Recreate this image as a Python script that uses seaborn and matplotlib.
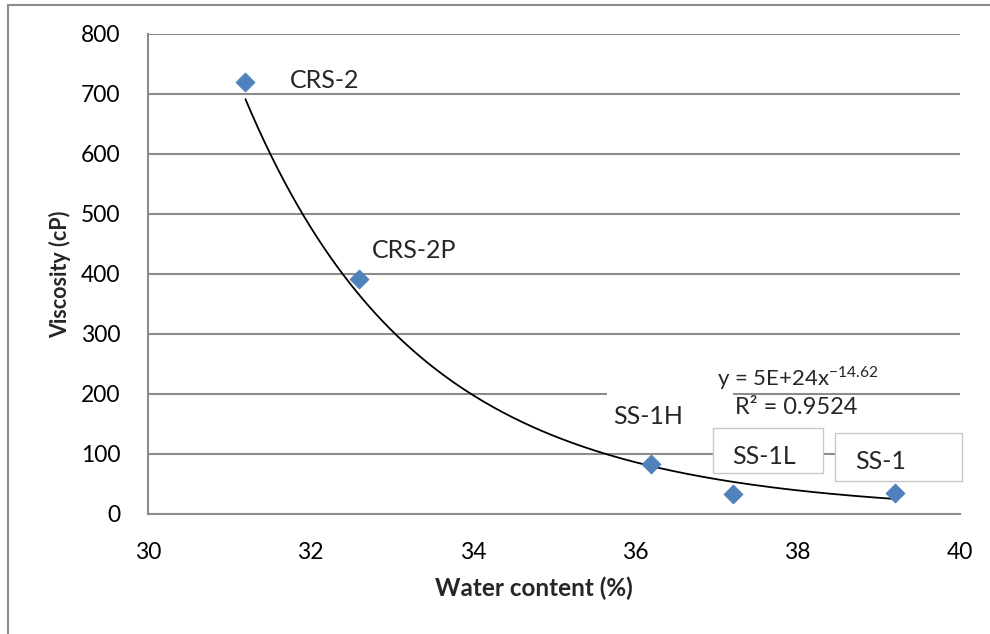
import numpy as np
import pandas as pd
import matplotlib
matplotlib.use("Agg")
import matplotlib.pyplot as plt
from matplotlib.patches import Rectangle
from matplotlib.lines import Line2D
import seaborn as sns

# ---- data ----
names = ["CRS-2", "CRS-2P", "SS-1H", "SS-1L", "SS-1"]
water = [31.2, 32.6, 36.2, 37.2, 39.2]
viscosity = [720, 392, 83, 33, 35]
x_ticks = [30, 32, 34, 36, 38, 40]
y_ticks = [0, 100, 200, 300, 400, 500, 600, 700, 800]
eq_text = r"y = 5E+24x$^{\mathregular{-14.62}}$"
r2_text = "R² = 0.9524"

sns.set_theme(style="white")
plt.rcParams["font.family"] = ["Lato", "DejaVu Sans"]

df = pd.DataFrame({"name": names, "water": water, "visc": viscosity})

fig = plt.figure(figsize=(9.9, 6.34), dpi=100)
ax = fig.add_axes([148/990, 1-514/634, (960-148)/990, (514-34)/634])

grid_c = "#8C8C8C"
ax.set_axisbelow(True)
ax.yaxis.grid(True, color=grid_c, lw=1.5)
ax.xaxis.grid(False)

# power trend line fitted from data
b, a = np.polyfit(np.log(df["water"]), np.log(df["visc"]), 1)
xs = np.linspace(min(water), max(water), 200)
ax.plot(xs, np.exp(a) * xs ** b, color="black", lw=1.3, zorder=2)

sns.scatterplot(data=df, x="water", y="visc", marker="D", s=95,
                color="#4F81BD", edgecolor="#4F81BD", linewidth=0.5,
                ax=ax, zorder=3, legend=False)

ax.set_xlim(30, 40)
ax.set_ylim(0, 800)
ax.set_xticks(x_ticks)
ax.set_yticks(y_ticks)
ax.tick_params(axis="both", length=0, labelsize=16.5, colors="black")
ax.tick_params(axis="y", pad=20)
ax.tick_params(axis="x", pad=20)
for s in ["top", "right"]:
    ax.spines[s].set_visible(False)
for s in ["left", "bottom"]:
    ax.spines[s].set_color(grid_c)
    ax.spines[s].set_linewidth(1.5)

ax.set_xlabel("Water content (%)", fontsize=17.5, fontweight="bold")
ax.set_ylabel("Viscosity (cP)", fontsize=15.5, fontweight="bold")
ax.xaxis.label.set_va("center")
ax.yaxis.label.set_va("center")
ax.xaxis.set_label_coords((534-148)/812, (514-588)/480)
ax.yaxis.set_label_coords((60-148)/812, (514-274)/480)

# white patch interrupting gridline behind equation
ax.add_patch(Rectangle((35.65, 185), 1.55, 30, facecolor="white",
                       edgecolor="none", zorder=1))

# label boxes
box_c = "#C8C8C8"
ax.add_patch(Rectangle((36.96, 68), 1.35, 75, facecolor="white",
                       edgecolor=box_c, lw=1.0, zorder=1.5, clip_on=False))
ax.add_patch(Rectangle((38.46, 55), 1.56, 80, facecolor="white",
                       edgecolor=box_c, lw=1.0, zorder=1.5, clip_on=False))

lab_pos = {"CRS-2": (31.75, 723), "CRS-2P": (32.76, 440), "SS-1H": (35.73, 163),
           "SS-1L": (37.2, 95), "SS-1": (38.71, 87)}
for n in names:
    px, py = lab_pos[n]
    ax.text(px, py, n, fontsize=18, va="center", ha="left", zorder=4)

ax.text(37.01, 227, eq_text, fontsize=16, va="center", ha="left", zorder=4)
ax.text(37.23, 177, r2_text, fontsize=17, va="center", ha="left", zorder=4)

# outer frame
fig.add_artist(Line2D([8/990, 8/990], [0, 1-5/634], color=grid_c, lw=1.5))
fig.add_artist(Line2D([8/990, 1], [1-5/634, 1-5/634], color=grid_c, lw=1.5))

fig.savefig("out.png", dpi=100)
